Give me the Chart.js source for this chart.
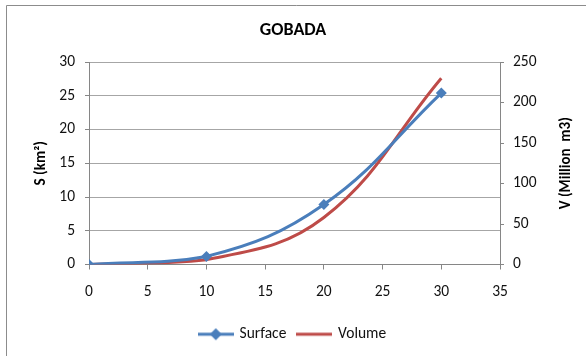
<!DOCTYPE html>
<html>
<head>
<meta charset="utf-8">
<title>GOBADA</title>
<script src="https://cdn.jsdelivr.net/npm/chart.js@4/dist/chart.umd.min.js"></script>
<style>
    html, body { margin: 0; padding: 0; background: #fff; }
    #wrap { width: 586px; height: 356px; }
</style>
</head>
<body>
<div id="wrap"><canvas id="gobadaChart" width="586" height="356"></canvas></div>
<script>
// hauteur (m) / surface (km²) / volume (Mm3)
const depth = [0, 10, 20, 30];
const surface = [0, 1.2, 8.9, 25.4];
const volume = [0, 6, 58, 230];

const xTicks = { min: 0, max: 35, step: 5 };
const sTicks = { min: 0, max: 30, step: 5 };
const vTicks = { min: 0, max: 250, step: 50 };

const BLUE = '#4a7ebb';
const RED = '#be4b48';
const FONT = 'Carlito, Lato, "Open Sans", sans-serif';
const V_TITLE = 'V (Million  m3)';

function toPoints(xs, ys) {
    return xs.map(function (x, i) { return { x: x, y: ys[i] }; });
}

// petit trait + marqueur pour la légende
function legendIcon(color, withDiamond) {
    let c = document.createElement('canvas');
    c.width = 36;
    c.height = 14;
    let ctx = c.getContext('2d');
    ctx.strokeStyle = color;
    ctx.lineWidth = 3;
    ctx.beginPath();
    ctx.moveTo(0, 7);
    ctx.lineTo(36, 7);
    ctx.stroke();
    if (withDiamond) {
        ctx.fillStyle = color;
        ctx.beginPath();
        ctx.moveTo(18, 1);
        ctx.lineTo(24, 7);
        ctx.lineTo(18, 13);
        ctx.lineTo(12, 7);
        ctx.closePath();
        ctx.fill();
    }
    return c;
}

// cadre gris autour du graphique
const frame = {
    id: 'frame',
    beforeDraw: function (chart) {
        let ctx = chart.ctx;
        ctx.save();
        ctx.fillStyle = '#fff';
        ctx.fillRect(0, 0, chart.width, chart.height);
        ctx.strokeStyle = '#8c8c8c';
        ctx.lineWidth = 1;
        ctx.beginPath();
        ctx.moveTo(6.5, chart.height);
        ctx.lineTo(6.5, 5.5);
        ctx.lineTo(chart.width, 5.5);
        ctx.stroke();
        ctx.restore();
    }
};

// titre de l'axe droit, écrit de bas en haut comme celui de gauche
const rightTitle = {
    id: 'rightTitle',
    afterDraw: function (chart) {
        let ctx = chart.ctx;
        let area = chart.chartArea;
        ctx.save();
        ctx.translate(chart.scales.y1.right - 20, (area.top + area.bottom) / 2);
        ctx.rotate(-Math.PI / 2);
        ctx.fillStyle = '#000';
        ctx.font = 'bold 15px ' + FONT;
        ctx.textAlign = 'center';
        ctx.textBaseline = 'middle';
        ctx.fillText(V_TITLE, 0, 0);
        ctx.restore();
    }
};

const config = {
    type: 'scatter',
    data: {
        datasets: [{
            label: 'Surface',
            data: toPoints(depth, surface),
            yAxisID: 'y',
            showLine: true,
            borderColor: BLUE,
            backgroundColor: BLUE,
            borderWidth: 3,
            tension: 0.4,
            pointStyle: 'rectRot',
            pointRadius: 5.5,
            pointHoverRadius: 5.5,
            pointBorderWidth: 0
        }, {
            label: 'Volume',
            data: toPoints(depth, volume),
            yAxisID: 'y1',
            showLine: true,
            borderColor: RED,
            backgroundColor: RED,
            borderWidth: 3,
            tension: 0.4,
            pointRadius: 0,
            pointHoverRadius: 0
        }]
    },
    options: {
        responsive: false,
        animation: false,
        devicePixelRatio: 1,
        layout: { padding: { left: 0, right: 0, top: 0, bottom: 4 } },
        scales: {
            x: {
                type: 'linear',
                position: 'bottom',
                min: xTicks.min,
                max: xTicks.max,
                ticks: { stepSize: xTicks.step, padding: 13, color: '#111', font: { family: FONT, size: 15.5 } },
                grid: { drawOnChartArea: false, drawTicks: true, tickLength: 5, color: '#868686' },
                border: { color: '#868686', width: 1 },
                afterFit: function (scale) { scale.height = 50; }
            },
            y: {
                position: 'left',
                min: sTicks.min,
                max: sTicks.max,
                ticks: { stepSize: sTicks.step, padding: 10, color: '#111', font: { family: FONT, size: 15.5 } },
                grid: { color: '#a6a6a6', tickColor: '#868686', tickLength: 4 },
                border: { color: '#868686', width: 1 },
                title: {
                    display: true,
                    text: 'S (km²)',
                    color: '#000',
                    font: { family: FONT, size: 15, weight: 'bold' },
                    padding: { top: 32, bottom: 0 }
                },
                afterFit: function (scale) { scale.width = 89; }
            },
            y1: {
                position: 'right',
                min: vTicks.min,
                max: vTicks.max,
                ticks: { stepSize: vTicks.step, padding: 9, color: '#111', font: { family: FONT, size: 15.5 } },
                grid: { drawOnChartArea: false, tickColor: '#868686', tickLength: 4 },
                border: { color: '#868686', width: 1 },
                afterFit: function (scale) { scale.width = 86; }
            }
        },
        plugins: {
            title: {
                display: true,
                text: 'GOBADA',
                color: '#000',
                font: { family: FONT, size: 18, weight: 'bold' },
                padding: { top: 20, bottom: 20.4 }
            },
            legend: {
                position: 'bottom',
                labels: {
                    usePointStyle: true,
                    pointStyleWidth: 32,
                    padding: 12,
                    color: '#111',
                    font: { family: FONT, size: 15.5 },
                    generateLabels: function (chart) {
                        return chart.data.datasets.map(function (ds, i) {
                            return {
                                text: ds.label,
                                datasetIndex: i,
                                hidden: false,
                                fontColor: '#111',
                                fillStyle: ds.borderColor,
                                strokeStyle: ds.borderColor,
                                lineWidth: 0,
                                pointStyle: legendIcon(ds.borderColor, i === 0)
                            };
                        });
                    }
                }
            },
            tooltip: { enabled: false }
        }
    },
    plugins: [frame, rightTitle]
};

let chartCanvas = document.getElementById('gobadaChart').getContext('2d');
let gobadaChart = new Chart(chartCanvas, config);
</script>
</body>
</html>
